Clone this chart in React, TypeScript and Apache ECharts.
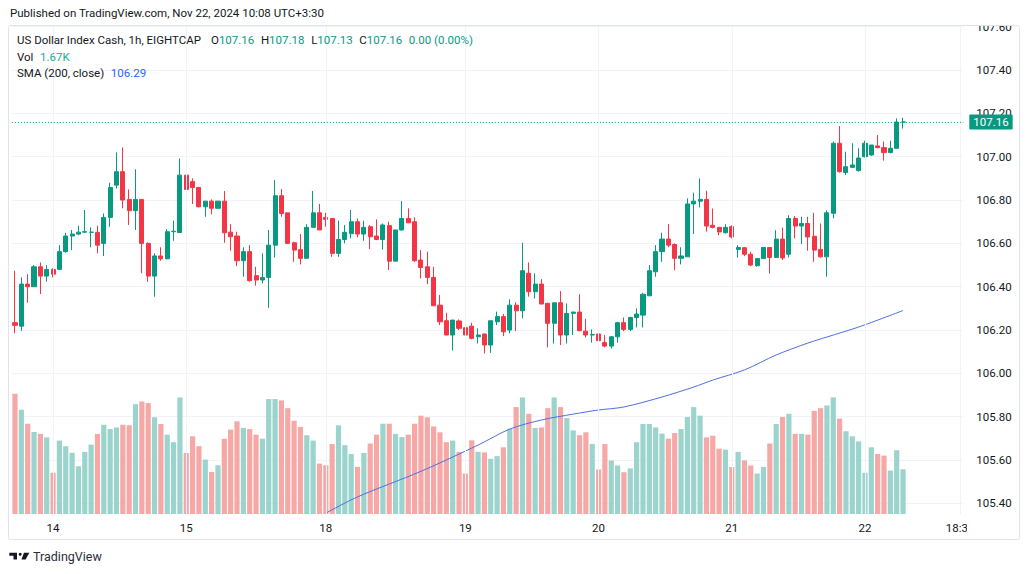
import React, { useEffect, useRef } from "react";
import * as echarts from "echarts";

// ---------- data ----------
const opens = [
  106.234,106.218,106.412,106.400,106.492,106.449,106.480,106.480,106.562,106.634,
  106.643,106.652,106.651,106.651,106.600,106.720,106.869,106.931,106.803,106.751,
  106.803,106.600,106.449,106.542,106.529,106.654,106.650,106.915,106.885,106.858,
  106.769,106.795,106.762,106.795,106.652,106.634,106.520,106.562,106.451,106.431,
  106.443,106.592,106.820,106.741,106.603,106.571,106.531,106.674,106.741,106.720,
  106.715,106.554,106.618,106.645,106.700,106.643,106.677,106.634,106.618,106.682,
  106.518,106.662,106.715,106.700,106.523,106.492,106.443,106.315,106.243,106.177,
  106.242,106.211,106.218,106.169,106.182,106.131,106.238,106.262,106.200,106.315,
  106.289,106.462,106.377,106.412,106.323,106.231,106.326,106.177,106.277,106.283,
  106.195,106.177,106.182,106.142,106.126,106.169,106.234,106.203,106.258,106.269,
  106.358,106.469,106.562,106.620,106.595,106.531,106.538,106.782,106.795,106.803,
  106.684,106.674,106.649,106.677,106.572,106.580,106.550,106.497,106.530,106.581,
  106.535,106.620,106.550,106.715,106.680,106.692,106.633,106.572,106.538,106.739,
  107.062,106.927,106.951,106.936,107.000,107.008,107.050,107.042,107.019,107.039,
  107.160,
];
const highs = [
  106.474,106.443,106.458,106.500,106.512,106.500,106.485,106.592,106.649,106.662,
  106.682,106.754,106.674,106.682,106.738,106.880,107.020,107.043,106.849,106.942,
  106.803,106.605,106.554,106.582,106.665,106.705,106.992,106.942,106.900,106.861,
  106.795,106.803,106.795,106.842,106.689,106.654,106.582,106.592,106.492,106.554,
  106.662,106.892,106.851,106.741,106.608,106.643,106.689,106.842,106.782,106.741,
  106.715,106.705,106.685,106.754,106.715,106.705,106.685,106.711,106.692,106.700,
  106.662,106.795,106.762,106.720,106.569,106.562,106.492,106.362,106.280,106.246,
  106.249,106.231,106.234,106.208,106.182,106.243,106.285,106.274,106.342,106.328,
  106.603,106.512,106.462,106.435,106.326,106.326,106.380,106.323,106.285,106.365,
  106.252,106.203,106.200,106.177,106.172,106.238,106.258,106.262,106.300,106.372,
  106.500,106.592,106.649,106.689,106.600,106.582,106.808,106.834,106.900,106.843,
  106.761,106.674,106.689,106.684,106.592,106.584,106.561,106.530,106.581,106.581,
  106.661,106.673,106.730,106.726,106.723,106.723,106.741,106.692,106.753,107.070,
  107.142,107.023,107.062,107.039,107.074,107.054,107.100,107.070,107.074,107.177,
  107.180,
];
const lows = [
  106.185,106.197,106.326,106.400,106.366,106.423,106.443,106.477,106.557,106.569,
  106.638,106.649,106.582,106.554,106.542,106.677,106.854,106.762,106.685,106.662,
  106.462,106.423,106.354,106.520,106.526,106.612,106.650,106.846,106.782,106.766,
  106.723,106.734,106.762,106.603,106.566,106.495,106.446,106.423,106.405,106.415,
  106.303,106.535,106.723,106.600,106.515,106.503,106.531,106.674,106.662,106.677,
  106.538,106.538,106.600,106.623,106.628,106.612,106.574,106.615,106.572,106.477,
  106.518,106.659,106.695,106.515,106.438,106.412,106.312,106.223,106.177,106.105,
  106.200,106.172,106.157,106.138,106.092,106.095,106.223,106.172,106.185,106.195,
  106.254,106.354,106.346,106.320,106.120,106.138,106.131,106.138,106.177,106.197,
  106.166,106.142,106.146,106.120,106.115,106.142,106.195,106.195,106.212,106.212,
  106.358,106.446,106.515,106.582,106.477,106.503,106.538,106.643,106.766,106.654,
  106.669,106.638,106.646,106.623,106.535,106.541,106.495,106.492,106.530,106.461,
  106.535,106.523,106.535,106.623,106.597,106.566,106.515,106.535,106.446,106.716,
  106.927,106.916,106.947,106.931,106.997,107.004,107.039,106.982,107.016,107.039,
  107.130,
];
const closes = [
  106.222,106.412,106.400,106.492,106.449,106.480,106.458,106.562,106.634,106.643,
  106.652,106.654,106.652,106.592,106.720,106.858,106.931,106.800,106.751,106.803,
  106.600,106.449,106.542,106.529,106.654,106.656,106.915,106.849,106.858,106.769,
  106.795,106.762,106.795,106.649,106.631,106.520,106.562,106.428,106.431,106.443,
  106.592,106.820,106.738,106.600,106.569,106.531,106.674,106.741,106.662,106.711,
  106.554,106.618,106.651,106.700,106.643,106.674,106.631,106.618,106.685,106.518,
  106.662,106.715,106.695,106.520,106.489,106.443,106.312,106.238,106.177,106.246,
  106.208,106.177,106.162,106.177,106.131,106.243,106.262,106.192,106.315,106.289,
  106.474,106.377,106.412,106.320,106.231,106.326,106.177,106.277,106.283,106.197,
  106.177,106.180,106.151,106.126,106.169,106.234,106.203,106.258,106.274,106.365,
  106.474,106.562,106.620,106.592,106.531,106.542,106.782,106.795,106.803,106.680,
  106.674,106.653,106.674,106.630,106.581,106.550,106.500,106.530,106.581,106.535,
  106.620,106.533,106.715,106.680,106.692,106.630,106.569,106.538,106.741,107.062,
  106.931,106.954,106.962,106.994,107.062,107.054,107.042,107.019,107.039,107.160,
  107.160,
];
// volume in thousands
const volumes = [
  4.49,3.89,3.37,3.06,2.99,2.86,1.54,2.74,2.53,2.28,
  1.78,2.32,2.59,2.99,3.33,3.17,3.23,3.33,3.31,4.10,
  4.20,4.14,3.61,3.36,2.96,2.68,4.35,2.28,2.90,2.53,
  2.03,1.57,1.82,2.81,3.15,3.46,3.21,3.17,2.96,2.81,
  4.29,4.29,4.24,3.95,3.48,3.25,2.94,2.74,1.88,1.82,
  2.61,3.31,2.57,2.24,1.76,2.28,2.63,2.96,3.37,3.37,
  2.99,2.87,2.96,3.37,3.67,3.61,3.27,3.05,2.68,2.74,
  2.32,1.51,2.75,2.32,2.30,2.06,2.16,2.49,3.18,3.99,
  4.35,3.74,3.21,3.23,3.95,4.35,3.99,3.58,3.12,2.94,
  3.05,2.61,1.66,2.61,2.00,1.81,1.56,1.70,2.68,3.36,
  3.36,3.23,3.00,2.81,3.02,3.17,3.62,3.99,3.67,2.86,
  2.92,2.44,2.40,1.75,2.32,2.00,1.81,1.51,1.76,2.63,
  3.36,3.62,3.74,2.99,2.99,2.96,3.85,3.95,4.05,4.35,
  3.56,3.09,2.90,2.71,1.54,2.49,2.24,2.18,1.62,2.38,
  1.67,
];
// SMA(200) samples: [bar index, value]
const smaPoints = [
  [49, 105.355], [54, 105.43], [64, 105.548], [73, 105.669], [78, 105.743],
  [83, 105.785], [88, 105.812], [92, 105.831], [96, 105.845], [102, 105.891],
  [107, 105.937], [110, 105.969], [115, 106.016], [120, 106.085], [125, 106.14],
  [128, 106.168], [133, 106.214], [140, 106.29],
];
const slotCount = 150;
const dayTickIndex = [6, 27, 49, 71, 92, 113, 134, 149];
const dayTickLabels = ["14", "15", "18", "19", "20", "21", "22", "18:30"];
const priceTicks = [105.4, 105.6, 105.8, 106.0, 106.2, 106.4, 106.6, 106.8, 107.0, 107.2, 107.4, 107.6];
const priceMin = 105.351;
const priceMax = 107.608;
const volumeMax = 18.25;
const lastPrice = 107.16;
const lastSma = 106.29;
const lastVolume = 1.67;
const ohlcHeader = [
  ["O", "107.16"],
  ["H", "107.18"],
  ["L", "107.13"],
  ["C", "107.16"],
];
const changeText = "0.00 (0.00%)";

// ---------- styles ----------
const UP = "#089981";
const DOWN = "#f23645";
const VOL_UP = "#9ad4cd";
const VOL_DOWN = "#f6a8a7";
const SMA_COLOR = "#4c70e0";
const TXT = "#131722";
const GRIDC = "#f0f3fa";
const FF = 'Roboto, "Noto Sans", sans-serif';
const HF = 11.5;

export default function App() {
  const ref = useRef<HTMLDivElement>(null);

  useEffect(() => {
    document.body.style.margin = "0";
    if (!ref.current) return;
    const chart = echarts.init(ref.current, undefined, { renderer: "svg" });

    const categories = Array.from({ length: slotCount }, (_, i) => {
      const k = dayTickIndex.indexOf(i);
      return k >= 0 ? dayTickLabels[k] : "";
    });
    const candleData = opens.map((o, i) => [o, closes[i], lows[i], highs[i]]);
    const volData = volumes.map((v, i) => ({
      value: v,
      itemStyle: { color: closes[i] >= opens[i] ? VOL_UP : VOL_DOWN },
    }));

    const headerLine =
      "{d|US Dollar Index Cash, 1h, EIGHTCAP}   " +
      ohlcHeader.map(([k, v]) => `{d|${k}}{g|${v}}`).join("  ") +
      `  {g|${changeText}}`;

    const badgeLabel = (text: string, bg: string) => ({
      show: true,
      position: "end",
      formatter: text,
      backgroundColor: bg,
      color: "#ffffff",
      fontSize: 11.5,
      fontFamily: FF,
      padding: [2, 4, 1, 4],
      distance: 6,
      borderRadius: 1,
    });

    const richStyles = {
      d: { fill: TXT, fontSize: HF, fontFamily: FF },
      g: { fill: UP, fontSize: HF, fontFamily: FF },
      t: { fill: "#22ab94", fontSize: HF, fontFamily: FF },
      b: { fill: "#2962ff", fontSize: HF, fontFamily: FF },
    };

    const option: any = {
      animation: false,
      backgroundColor: "#ffffff",
      grid: {
        left: 11.83,
        right: 66.7,
        top: 25,
        bottom: 60,
        outerBoundsMode: "none",
      },
      xAxis: {
        type: "category",
        data: categories,
        boundaryGap: true,
        axisLine: { show: false },
        axisTick: { show: false },
        splitLine: { show: false },
        axisLabel: {
          interval: 0,
          color: TXT,
          fontSize: 11.5,
          fontFamily: FF,
          margin: 8,
        },
      },
      yAxis: [
        {
          type: "value",
          position: "right",
          min: priceMin,
          max: priceMax,
          axisLine: { show: false },
          axisTick: { show: false, customValues: priceTicks },
          axisLabel: {
            customValues: priceTicks,
            formatter: (v: number) => v.toFixed(2),
            color: TXT,
            fontSize: 11.5,
            fontFamily: FF,
            margin: 13,
          },
          splitLine: { show: true, lineStyle: { color: GRIDC, width: 1 } },
        },
        {
          type: "value",
          min: 0,
          max: volumeMax,
          show: false,
          splitLine: { show: false },
        },
      ],
      series: [
        {
          name: "grid-v",
          type: "line",
          data: [],
          z: 1,
          silent: true,
          markLine: {
            silent: true,
            symbol: "none",
            label: { show: false },
            lineStyle: { color: GRIDC, type: "solid", width: 1 },
            data: dayTickIndex.map((i) => ({ xAxis: i })),
          },
        },
        {
          name: "Vol",
          type: "bar",
          xAxisIndex: 0,
          yAxisIndex: 1,
          barWidth: "82%",
          data: volData,
          z: 2,
          markLine: {
            silent: true,
            symbol: "none",
            lineStyle: { opacity: 0 },
            label: badgeLabel(`${lastVolume.toFixed(2)}K`, "#22ab94"),
            data: [{ yAxis: lastVolume }],
          },
        },
        {
          name: "SMA",
          type: "line",
          yAxisIndex: 0,
          data: smaPoints,
          showSymbol: false,
          symbol: "none",
          smooth: 0.3,
          lineStyle: { color: SMA_COLOR, width: 1 },
          z: 3,
          markLine: {
            silent: true,
            symbol: "none",
            lineStyle: { opacity: 0 },
            label: badgeLabel(lastSma.toFixed(2), "#2962ff"),
            data: [{ yAxis: lastSma }],
          },
        },
        {
          name: "DXY",
          type: "candlestick",
          yAxisIndex: 0,
          data: candleData,
          barWidth: "72%",
          z: 4,
          itemStyle: {
            color: UP,
            color0: DOWN,
            borderColor: UP,
            borderColor0: DOWN,
            borderColorDoji: UP,
            borderWidth: 1,
          },
          markLine: {
            silent: true,
            symbol: "none",
            lineStyle: { color: UP, type: [1, 2], width: 1 },
            label: badgeLabel(lastPrice.toFixed(2), UP),
            data: [{ yAxis: lastPrice }],
          },
        },
      ],
      graphic: [
        { type: "rect", z: 50, silent: true, shape: { x: 962, y: 0, width: 68, height: 25 }, style: { fill: "#ffffff" } },
        { type: "rect", z: 50, silent: true, shape: { x: 967, y: 516, width: 52, height: 22 }, style: { fill: "#ffffff" } },
        {
          type: "rect",
          z: 51,
          silent: true,
          shape: { x: 8.5, y: 25.5, width: 1011, height: 514, r: 2 },
          style: { fill: "none", stroke: "#e0e3eb", lineWidth: 1 },
        },
        {
          type: "text",
          x: 10,
          y: 13,
          z: 60,
          style: {
            text: "Published on TradingView.com, Nov 22, 2024 10:08 UTC+3:30",
            fill: TXT,
            font: `${HF}px ${FF}`,
            verticalAlign: "middle",
          },
        },
        {
          type: "text",
          x: 17,
          y: 40,
          z: 60,
          style: { text: headerLine, verticalAlign: "middle", rich: richStyles },
        },
        {
          type: "text",
          x: 17,
          y: 57,
          z: 60,
          style: {
            text: `{d|Vol}  {t|${lastVolume.toFixed(2)}K}`,
            verticalAlign: "middle",
            rich: richStyles,
          },
        },
        {
          type: "text",
          x: 17,
          y: 73,
          z: 60,
          style: {
            text: `{d|SMA (200, close)}  {b|${lastSma.toFixed(2)}}`,
            verticalAlign: "middle",
            rich: richStyles,
          },
        },
        // TradingView logo
        {
          type: "polygon",
          z: 60,
          shape: { points: [[9.3, 552.7], [17, 552.7], [17, 559.4], [13.5, 559.4], [13.5, 555.7], [9.3, 555.7]] },
          style: { fill: TXT },
        },
        { type: "circle", z: 60, shape: { cx: 20.2, cy: 554.3, r: 1.5 }, style: { fill: TXT } },
        {
          type: "polygon",
          z: 60,
          shape: { points: [[24, 552.7], [29.3, 552.7], [25.6, 559.4], [21.4, 559.4]] },
          style: { fill: TXT },
        },
        {
          type: "text",
          x: 33,
          y: 556.5,
          z: 60,
          style: { text: "TradingView", fill: "#2a2e39", font: `12.5px ${FF}`, verticalAlign: "middle" },
        },
      ],
    };

    chart.setOption(option);
    return () => chart.dispose();
  }, []);

  return <div ref={ref} style={{ width: 1030, height: 574 }} />;
}
